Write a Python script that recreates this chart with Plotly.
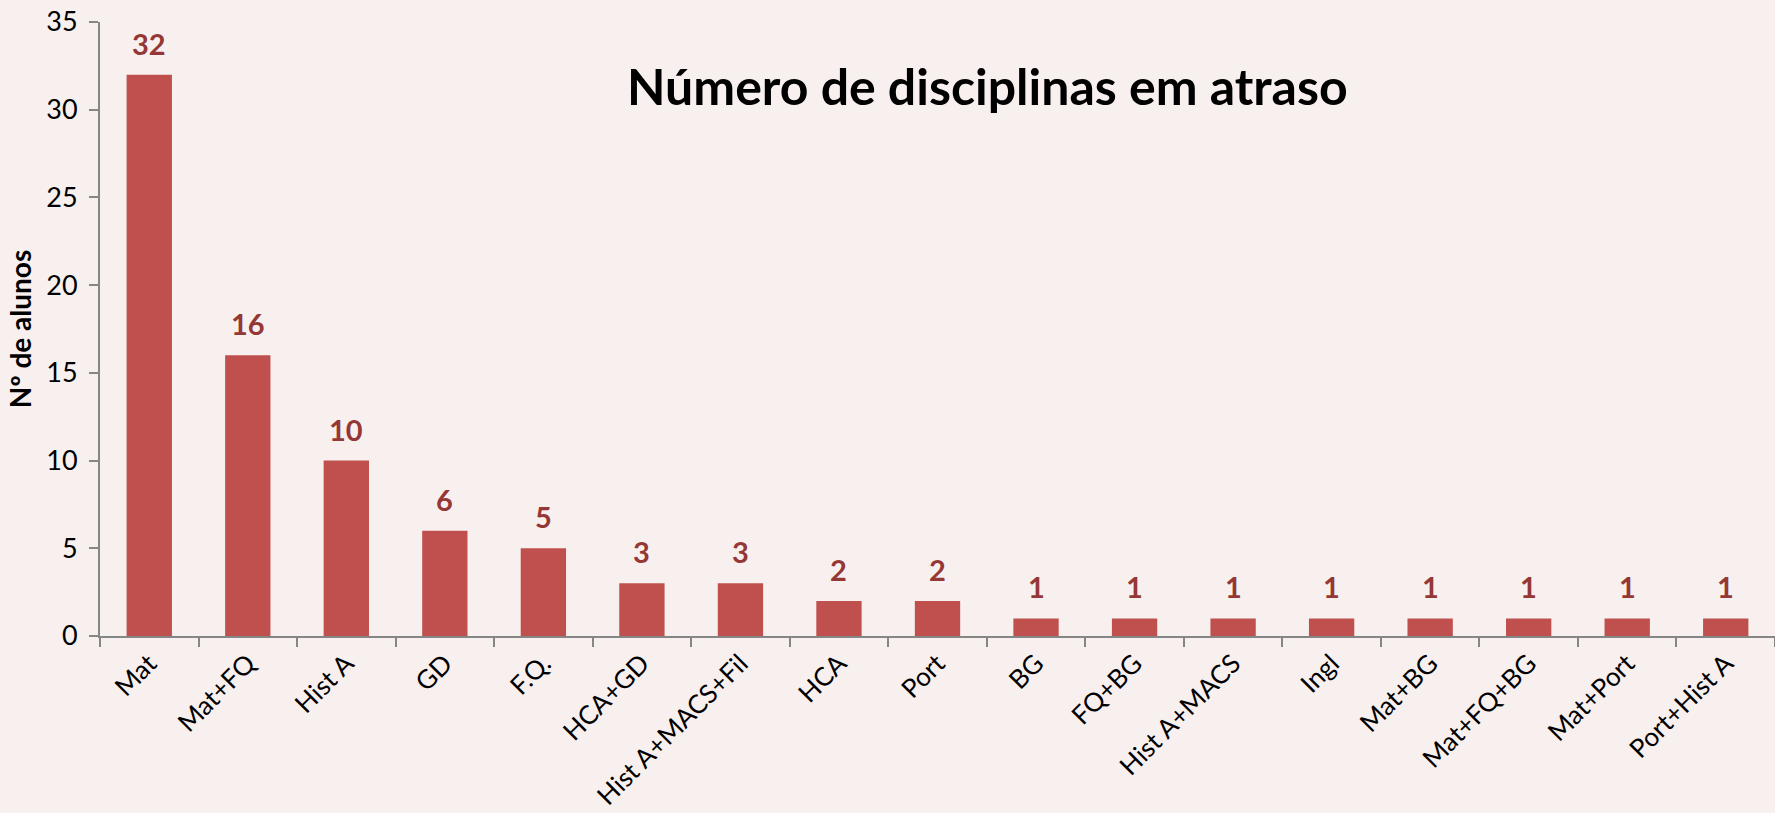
import plotly.graph_objects as go

disciplinas = ['Mat', 'Mat+FQ', 'Hist A', 'GD', 'F.Q.', 'HCA+GD', 'Hist A+MACS+Fil',
               'HCA', 'Port', 'BG', 'FQ+BG', 'Hist A+MACS', 'Ingl', 'Mat+BG',
               'Mat+FQ+BG', 'Mat+Port', 'Port+Hist A']
alunos = [32, 16, 10, 6, 5, 3, 3, 2, 2, 1, 1, 1, 1, 1, 1, 1, 1]

bg = '#F8F0EF'
bar_col = '#C0504D'
lbl_col = '#953735'
axis_col = '#868686'
font = 'Lato, Open Sans, sans-serif'

fig = go.Figure(go.Bar(x=disciplinas, y=alunos, width=0.46,
                       marker=dict(color=bar_col, line=dict(width=0))))

# data labels above bars
for d, v in zip(disciplinas, alunos):
    fig.add_annotation(x=d, y=v, text=f'<b>{v}</b>', showarrow=False,
                       yanchor='bottom', yshift=12,
                       font=dict(family=font, size=29, color=lbl_col))

fig.add_annotation(text='<b>Número de disciplinas em atraso</b>', xref='paper', yref='paper',
                   x=0.53, y=0.895, showarrow=False, xanchor='center', yanchor='middle',
                   font=dict(family=font, size=50, color='black'))

fig.update_layout(
    width=1775, height=813,
    margin=dict(l=100, r=0, t=22, b=177),
    paper_bgcolor=bg, plot_bgcolor=bg,
    font=dict(family=font, color='black'),
    showlegend=False,
    xaxis=dict(range=[-0.5, 16.5], showline=True, linecolor=axis_col, linewidth=2,
               ticks='outside', tickson='boundaries', ticklen=9, tickcolor=axis_col,
               tickwidth=2, tickangle=-45, tickfont=dict(size=26), showgrid=False),
    yaxis=dict(range=[0, 35], dtick=5, showline=True, linecolor=axis_col, linewidth=2,
               ticks='outside', ticklen=9, tickcolor=axis_col, tickwidth=2,
               ticklabelstandoff=6,
               tickfont=dict(size=27), showgrid=False, zeroline=False,
               title=dict(text='<b>Nº de alunos</b>', font=dict(size=28), standoff=6)),
)

fig.write_html('out.html', config={'displayModeBar': False},
               post_script="document.body.style.margin='0px';")
